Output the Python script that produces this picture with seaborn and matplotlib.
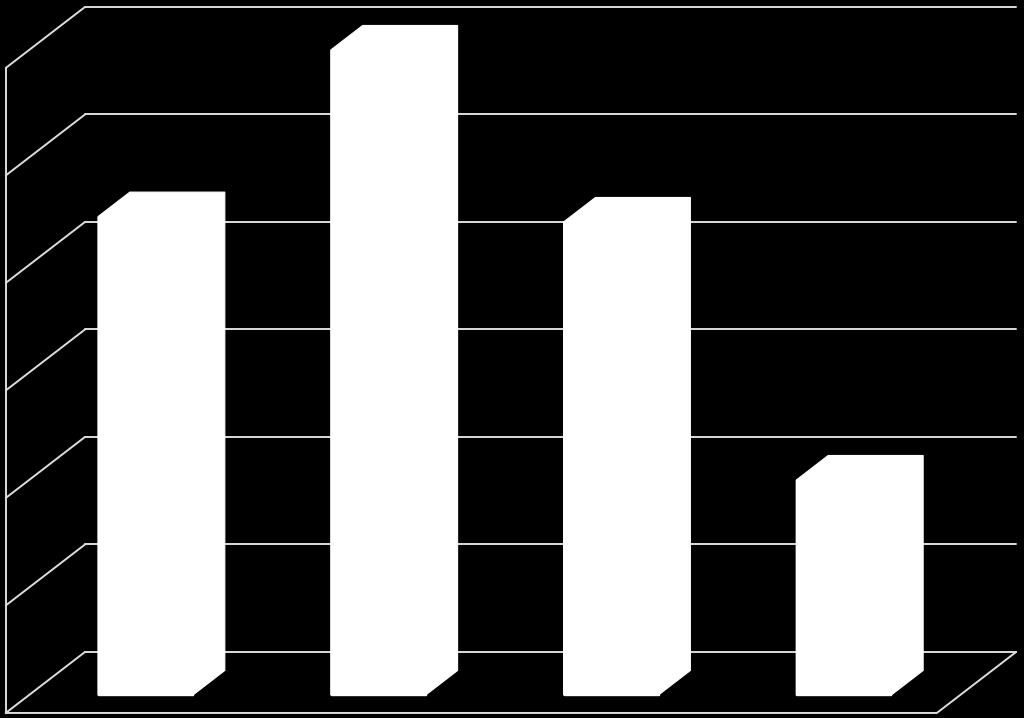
import matplotlib
matplotlib.use("Agg")
import matplotlib.pyplot as plt
import seaborn as sns
from matplotlib.patches import Polygon

# Chart data (gridline step = 1)
categories = ["A", "B", "C", "D"]
values = [4.45, 6.0, 4.4, 2.0]
grid_levels = [0, 1, 2, 3, 4, 5, 6]

# Oblique 3D look: depth z (in value units) shifts points up and right
SHEAR_X = 0.6
FLOOR_FRONT = -0.167
BAR_BACK = 0.228
WALL_BACK = 0.4
BAR_WIDTH = 0.408
LINE_COLOR = "#dcdcdc"


def project(x, v, z):
    return x + SHEAR_X * z, v + z


sns.set_style("dark", {"axes.facecolor": "black", "figure.facecolor": "black"})

fig = plt.figure(figsize=(10.24, 7.18), dpi=100)
fig.patch.set_facecolor("black")
ax = fig.add_axes([0, 0, 1, 1])
ax.set_facecolor("black")

# Front faces of the bars
sns.barplot(
    x=categories,
    y=values,
    color="white",
    saturation=1,
    width=BAR_WIDTH,
    edgecolor="white",
    linewidth=1,
    zorder=3,
    ax=ax,
)

x_left, x_right = -0.5, 3.5

# Back wall gridlines
for k in grid_levels:
    p0 = project(x_left, k, WALL_BACK)
    p1 = project(x_right, k, WALL_BACK)
    ax.plot([p0[0], p1[0]], [p0[1], p1[1]], color=LINE_COLOR, lw=1.4, zorder=1)

# Left wall diagonals
for k in grid_levels:
    p0 = project(x_left, k, FLOOR_FRONT)
    p1 = project(x_left, k, WALL_BACK)
    ax.plot([p0[0], p1[0]], [p0[1], p1[1]], color=LINE_COLOR, lw=1.4, zorder=1)

# Left wall front edge
p0 = project(x_left, 0, FLOOR_FRONT)
p1 = project(x_left, grid_levels[-1], FLOOR_FRONT)
ax.plot([p0[0], p1[0]], [p0[1], p1[1]], color=LINE_COLOR, lw=1.4, zorder=1)

# Floor front and right edges
floor = [
    project(x_left, 0, FLOOR_FRONT),
    project(x_right, 0, FLOOR_FRONT),
    project(x_right, 0, WALL_BACK),
]
ax.plot([p[0] for p in floor], [p[1] for p in floor], color=LINE_COLOR, lw=1.4, zorder=1)

# Whole bar outline (front, top and side) as one white shape, so no seams
for i, val in enumerate(values):
    x0 = i - BAR_WIDTH / 2
    x1 = i + BAR_WIDTH / 2
    shape = [project(x0, 0, 0), project(x0, val, 0), project(x0, val, BAR_BACK),
             project(x1, val, BAR_BACK), project(x1, 0, BAR_BACK), project(x1, 0, 0)]
    ax.add_patch(Polygon(shape, closed=True, facecolor="white",
                         edgecolor="white", lw=0.8, zorder=4))

ax.set_xlim(-0.625, 3.774)
ax.set_ylim(-0.214, 6.465)
ax.set_axis_off()

fig.savefig("out.png", dpi=100, facecolor="black")
plt.close(fig)
